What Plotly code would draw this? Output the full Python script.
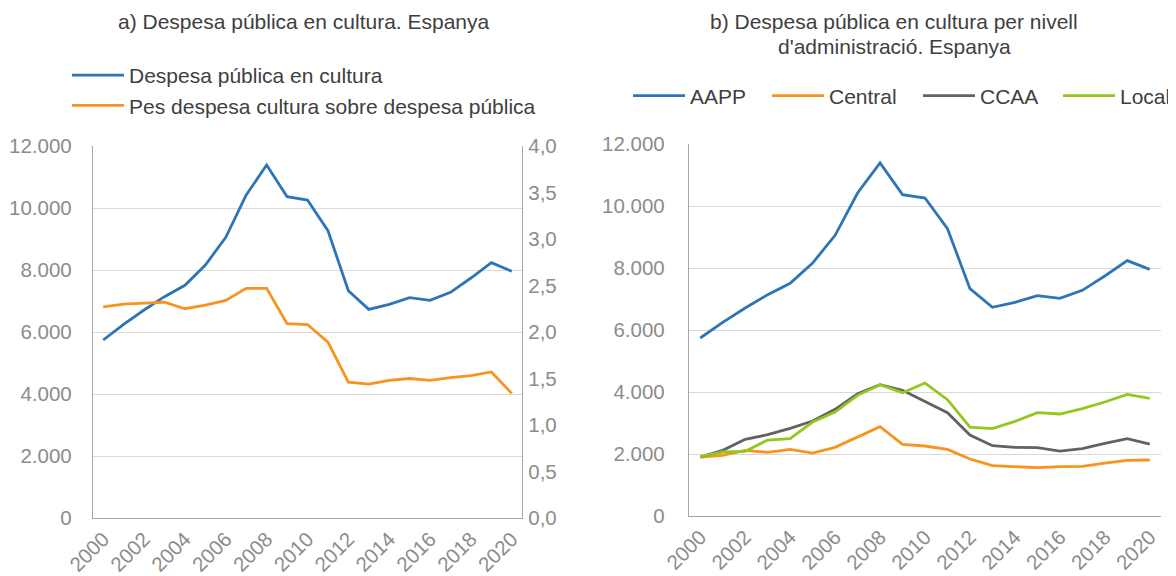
import plotly.graph_objects as go

years = list(range(2000, 2021))
tick_years = list(range(2000, 2021, 2))

# a) Despesa pública en cultura (milions €) i pes sobre despesa pública (%)
despesa_cultura = [5742, 6248, 6710, 7140, 7506, 8161, 9054, 10419, 11387, 10366, 10258,
                   9269, 7333, 6731, 6892, 7108, 7022, 7280, 7742, 8237, 7957]
pes_despesa = [2.27, 2.30, 2.31, 2.32, 2.25, 2.29, 2.34, 2.47, 2.47, 2.09, 2.08,
               1.89, 1.46, 1.44, 1.48, 1.50, 1.48, 1.51, 1.53, 1.57, 1.34]

# b) per nivell d'administració
aapp = despesa_cultura
central = [1903, 1957, 2118, 2053, 2150, 2032, 2215, 2548, 2881, 2311, 2258,
           2150, 1838, 1623, 1602, 1559, 1591, 1602, 1709, 1795, 1806]
ccaa = [1903, 2118, 2473, 2623, 2827, 3064, 3440, 3945, 4236, 4053, 3690,
        3333, 2612, 2268, 2215, 2204, 2096, 2172, 2344, 2494, 2322]
local = [1914, 2064, 2086, 2451, 2494, 3032, 3354, 3892, 4236, 3978, 4289,
         3752, 2870, 2817, 3053, 3333, 3290, 3462, 3677, 3924, 3795]

title_a = "a) Despesa pública en cultura. Espanya"
title_b1 = "b) Despesa pública en cultura per nivell"
title_b2 = "d'administració. Espanya"

BLUE = "#2E75B6"
ORANGE = "#F7941D"
GRAY = "#626262"
GREEN = "#92C81E"
FONT = "Liberation Sans, Arial, sans-serif"
TXT = "#404040"
TICK = "#8C8C8C"
GRID = "#D9D9D9"
AXL = "#A6A6A6"
OFF = 8  # page body margin
W, H = 1176 - OFF, 576 - OFF

def fx(px):
    return (px - OFF) / W

def fy(px):
    return 1 - (px - OFF) / H

fig = go.Figure()
fig.add_trace(go.Scatter(x=years, y=despesa_cultura, name="Despesa pública en cultura",
                         mode="lines", line=dict(color=BLUE, width=2.8),
                         xaxis="x", yaxis="y", legend="legend"))
fig.add_trace(go.Scatter(x=years, y=pes_despesa, name="Pes despesa cultura sobre despesa pública",
                         mode="lines", line=dict(color=ORANGE, width=2.8),
                         xaxis="x", yaxis="y2", legend="legend"))
right_series = [("AAPP", aapp, BLUE, "legend2", 691), ("Central", central, ORANGE, "legend3", 830),
                ("CCAA", ccaa, GRAY, "legend4", 981), ("Local", local, GREEN, "legend5", None)]
for name, vals, col, leg, _ in right_series:
    fig.add_trace(go.Scatter(x=years, y=vals, name=name, mode="lines",
                             line=dict(color=col, width=2.8),
                             xaxis="x2", yaxis="y3", legend=leg))

xcommon = dict(range=[1999.5, 2020.5], tickvals=tick_years, tickangle=-45,
               tickfont=dict(family=FONT, size=20.5, color=TICK), automargin=False,
               showgrid=False, zeroline=False, showline=True, linecolor=AXL, linewidth=1.3,
               ticks="", ticklen=0)
ycommon = dict(tickfont=dict(family=FONT, size=20.5, color=TICK), zeroline=False,
               automargin=False, showline=True, linecolor=AXL, linewidth=1.3)

legend_font = dict(family=FONT, size=21, color=TXT)
TEXT_OFFSET = 63
legends = {}
for name, vals, col, leg, text_x in right_series:
    if text_x is None:
        legends[leg] = dict(orientation="h", x=1, y=fy(96), xanchor="right",
                            yanchor="middle", font=legend_font,
                            bgcolor="rgba(0,0,0,0)", itemwidth=52)
    else:
        legends[leg] = dict(orientation="h", x=fx(text_x - TEXT_OFFSET), y=fy(96),
                            xanchor="left", yanchor="middle", font=legend_font,
                            bgcolor="rgba(0,0,0,0)", itemwidth=52)

fig.update_layout(
    width=W, height=H,
    margin=dict(l=0, r=0, t=0, b=0),
    paper_bgcolor="white", plot_bgcolor="white",
    separators=",.",
    font=dict(family=FONT, color=TXT),
    xaxis=dict(domain=[fx(93), fx(522)], anchor="y", **xcommon),
    yaxis=dict(domain=[fy(518), fy(146)], anchor="x", range=[0, 12000], dtick=2000,
               tickformat=",.0f", showgrid=True, gridcolor=GRID, gridwidth=1.3,
               ticks="outside", ticklen=16, tickcolor="rgba(0,0,0,0)", **ycommon),
    yaxis2=dict(overlaying="y", side="right", anchor="x", range=[0, 4], dtick=0.5,
                tickformat=".1f", showgrid=False,
                ticks="outside", ticklen=1, tickcolor="rgba(0,0,0,0)", **ycommon),
    xaxis2=dict(domain=[fx(689), fx(1161)], anchor="y3", **xcommon),
    yaxis3=dict(domain=[fy(516), fy(144)], anchor="x2", range=[0, 12000], dtick=2000,
                tickformat=",.0f", showgrid=True, gridcolor=GRID, gridwidth=1.3,
                ticks="outside", ticklen=19, tickcolor="rgba(0,0,0,0)", **ycommon),
    legend=dict(orientation="v", x=fx(130 - TEXT_OFFSET), y=fy(55), xanchor="left",
                yanchor="top", font=legend_font, bgcolor="rgba(0,0,0,0)",
                itemwidth=52, tracegroupgap=0),
    showlegend=True,
    annotations=[
        dict(text=title_a, x=fx(304), y=fy(21), xref="paper", yref="paper",
             showarrow=False, xanchor="center", yanchor="middle",
             font=dict(family=FONT, size=21, color=TXT)),
        dict(text=title_b1, x=fx(894), y=fy(22), xref="paper", yref="paper",
             showarrow=False, xanchor="center", yanchor="middle",
             font=dict(family=FONT, size=21, color=TXT)),
        dict(text=title_b2, x=fx(894), y=fy(46), xref="paper", yref="paper",
             showarrow=False, xanchor="center", yanchor="middle",
             font=dict(family=FONT, size=21, color=TXT)),
    ],
    **legends,
)

fig.write_html("out.html")
